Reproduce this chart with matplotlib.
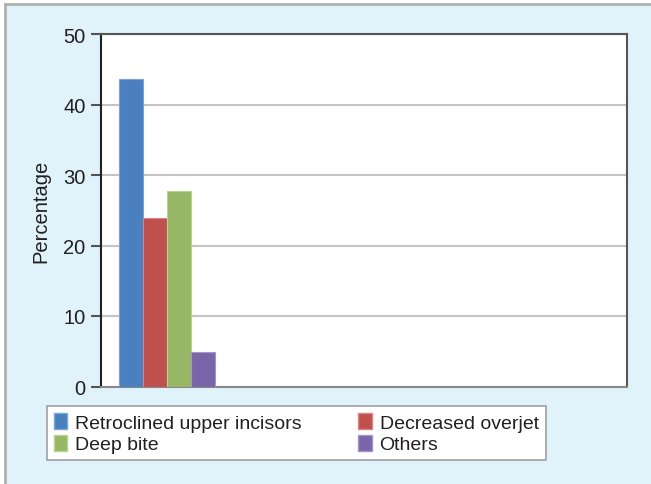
import matplotlib
matplotlib.use("Agg")
import matplotlib.pyplot as plt
from matplotlib.patches import Rectangle, Patch
from matplotlib.lines import Line2D

plt.rcParams['font.family'] = ['Liberation Sans', 'DejaVu Sans']

# bar data (percent)
labels = ["Retroclined upper incisors", "Decreased overjet", "Deep bite", "Others"]
values = [43.6, 23.9, 27.8, 4.9]
colors = ["#4a7fc0", "#c0504d", "#95b766", "#7a65a8"]
edges = ["#7aa3d6", "#d98583", "#b9d393", "#a594c8"]
yticks = [0, 10, 20, 30, 40, 50]

W, H = 651, 485
fig = plt.figure(figsize=(W / 100, H / 100), dpi=100, facecolor="white")

# light blue panel with a grey border on top and left
fig.add_artist(Rectangle((5 / W, 0), 1, 1 - 5 / H, transform=fig.transFigure,
                         facecolor="#e0f2fa", edgecolor="none", zorder=0))
fig.add_artist(Line2D([5 / W, 1], [1 - 5 / H, 1 - 5 / H], transform=fig.transFigure,
                      color="#b0b0b0", lw=2))
fig.add_artist(Line2D([5 / W, 5 / W], [0, 1 - 5 / H], transform=fig.transFigure,
                      color="#b0b0b0", lw=2))

ax = fig.add_axes([101 / W, 1 - 387.5 / H, 526 / W, 352.5 / H])
ax.set_facecolor("white")

for i, (v, c, e) in enumerate(zip(values, colors, edges)):
    ax.bar(i, v, width=1.0, color=c, edgecolor=e, linewidth=0.8, zorder=3)

ax.set_xlim(-1.25, 20.67)
ax.set_ylim(0, 50)
ax.set_yticks(yticks)
ax.set_yticklabels([str(t) for t in yticks], fontsize=14.5, color="#231f20")
ax.yaxis.grid(True, color="#c4c4c4", linewidth=1.5, zorder=0)
ax.set_xticks([])
ax.tick_params(axis="y", direction="out", length=7, width=1.5, color="#555555", pad=4)

for side in ["top", "right"]:
    ax.spines[side].set_color("#555555")
    ax.spines[side].set_linewidth(1.5)
ax.spines["left"].set_color("#231f20")
ax.spines["left"].set_linewidth(1.5)
ax.spines["bottom"].set_color("#888888")
ax.spines["bottom"].set_linewidth(1.5)

ax.set_ylabel("Percentage", fontsize=14.5, color="#231f20", labelpad=9)

# legend: column-wise order so the two rows read across
order = [0, 2, 1, 3]
handles = [Patch(facecolor=colors[i], edgecolor=edges[i], label=labels[i]) for i in order]
leg = fig.legend(handles=handles, ncol=2, loc="upper left",
                 bbox_to_anchor=(47 / W, 1 - 407 / H), borderaxespad=0,
                 fontsize=14, frameon=True, fancybox=False, edgecolor="#a0a0a0",
                 framealpha=1, facecolor="white",
                 handlelength=0.7, handleheight=0.9, handletextpad=0.4,
                 columnspacing=2.9, labelspacing=0.15, borderpad=0.35)
leg.get_frame().set_linewidth(1.2)
for t in leg.get_texts():
    t.set_color("#231f20")

fig.savefig("out.png", dpi=100, facecolor=fig.get_facecolor())
